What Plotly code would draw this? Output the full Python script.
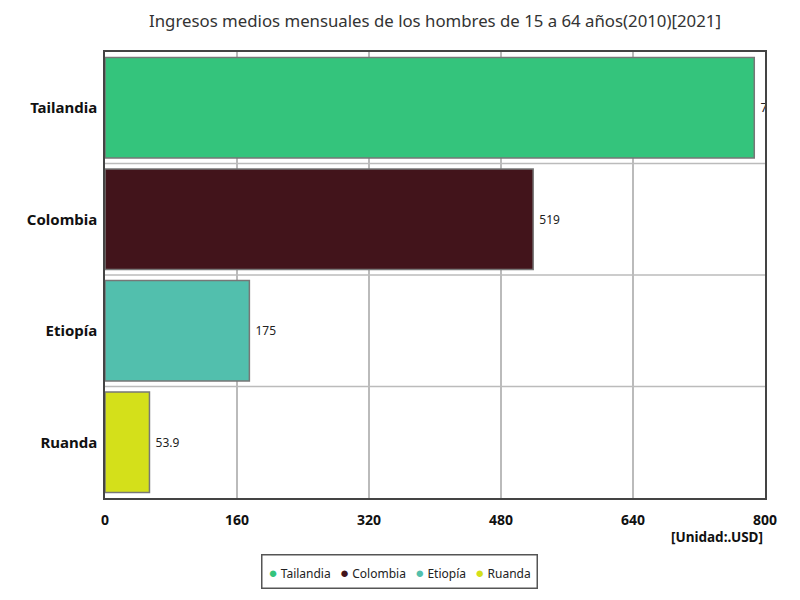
import plotly.graph_objects as go

# Datos
paises = ['Tailandia', 'Colombia', 'Etiopía', 'Ruanda']
ingresos = [787, 519, 175, 53.9]
etiquetas = ['787', '519', '175', '53.9']
colores = ['#34c47c', '#42141b', '#52bfad', '#d4e01a']
ticks_x = [0, 160, 320, 480, 640, 800]

fig = go.Figure()

for pais, valor, txt, color in zip(paises, ingresos, etiquetas, colores):
    fig.add_trace(go.Bar(
        y=[pais],
        x=[valor],
        name=pais,
        orientation='h',
        marker=dict(color=color, line=dict(color='#777777', width=1.5)),
        text=[' ' + txt],
        textposition='outside',
        textfont=dict(size=12, color='#222222'),
        cliponaxis=True,
        showlegend=False,
    ))

# lineas horizontales entre categorias
for i in range(len(paises) - 1):
    fig.add_shape(type='line', xref='paper', yref='y',
                  x0=0, x1=1, y0=i + 0.5, y1=i + 0.5,
                  line=dict(color='#bbbbbb', width=1.5), layer='below')

# leyenda (circulos + nombres)
nbsp = '\u00a0'
leyenda = (nbsp * 3).join(
    f'<span style="color:{c};font-size:15px">●</span>{nbsp}{p}' for p, c in zip(paises, colores)
)

fig.update_layout(
    width=800,
    height=600,
    font=dict(family='Noto Sans', color='#222222'),
    title=dict(text='Ingresos medios mensuales de los hombres de 15 a 64 años(2010)[2021]',
               xref='paper', x=0.5, xanchor='center', yref='container', y=0.978,
               yanchor='middle', font=dict(size=16.8, color='#333333')),
    margin=dict(l=97, r=43, t=44, b=110, autoexpand=False),
    plot_bgcolor='white',
    paper_bgcolor='white',
    barmode='overlay',
    bargap=0.1,
    showlegend=False,
    xaxis=dict(range=[0, 800], tickvals=ticks_x, showgrid=True,
               gridcolor='#bbbbbb', gridwidth=1.5, zeroline=False,
               showline=True, linecolor='#444444', linewidth=1.5, mirror=True,
               tickfont=dict(size=14, color='#111111', weight='bold'),
               ticks='', ticklabelstandoff=8),
    yaxis=dict(categoryorder='array', categoryarray=paises[::-1],
               range=[-0.5, len(paises) - 0.5],
               showgrid=False, showline=True, linecolor='#444444', linewidth=1.5,
               mirror=True, ticks='', tickfont=dict(size=15, color='#111111', weight='bold'),
               ticklabelstandoff=3),
    annotations=[
        dict(text='<b>[Unidad:.USD]</b>', xref='paper', yref='paper',
             x=1, y=-0.062, xanchor='right', yanchor='top',
             showarrow=False, font=dict(size=13.5, color='#111111')),
        dict(text=leyenda, xref='paper', yref='paper',
             x=0.446, y=-0.165, xanchor='center', yanchor='middle',
             showarrow=False, font=dict(size=12, color='#222222'),
             bordercolor='#555555', borderwidth=1.5, borderpad=6, bgcolor='white'),
    ],
)

fig.write_html("out.html")
